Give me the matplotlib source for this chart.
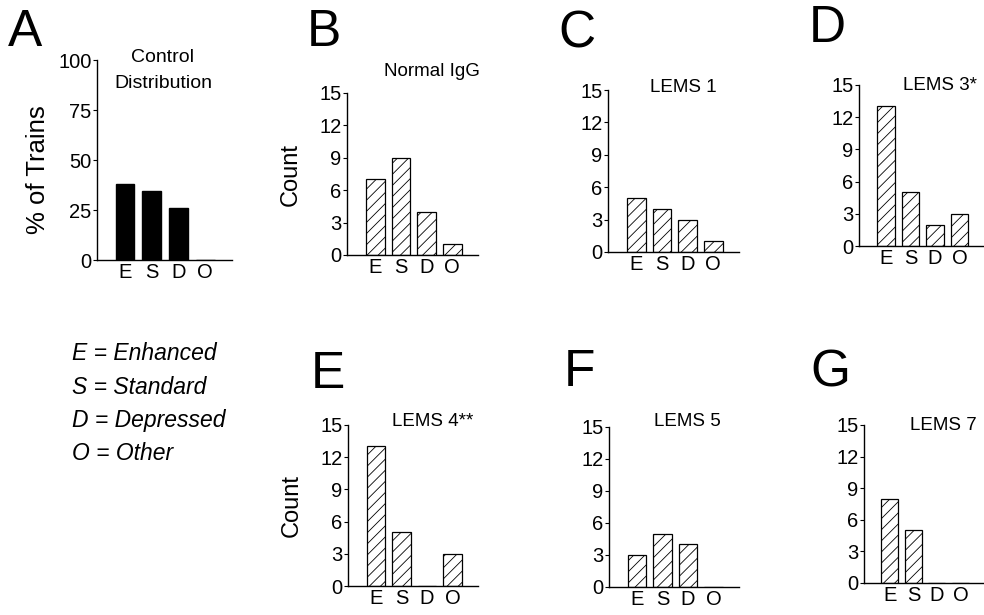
import matplotlib
matplotlib.use('Agg')
import matplotlib.pyplot as plt

plt.rcParams['font.family'] = ['Liberation Sans', 'DejaVu Sans']
plt.rcParams['hatch.linewidth'] = 0.6
plt.rcParams['hatch.color'] = '#444444'

W, H = 984, 615

categories = ['E', 'S', 'D', 'O']
control_pct = [38, 34.5, 26, 0]
normal_igg = [7, 9, 4, 1]
lems1 = [5, 4, 3, 1]
lems3 = [13, 5, 2, 3]
lems4 = [13, 5, 0, 3]
lems5 = [3, 5, 4, 0]
lems7 = [8, 5, 0, 0]

legend_lines = ['E = Enhanced', 'S = Standard', 'D = Depressed', 'O = Other']

fig = plt.figure(figsize=(W / 100, H / 100), dpi=100)


def px_axes(l, t, r, b):
    return fig.add_axes([l / W, 1 - b / H, (r - l) / W, (b - t) / H])


def ftext(x, y, s, **kw):
    fig.text(x / W, 1 - y / H, s, **kw)


def style_axes(ax, ymax, yticks, xlim):
    for s in ['top', 'right']:
        ax.spines[s].set_visible(False)
    for s in ['left', 'bottom']:
        ax.spines[s].set_linewidth(1.0)
    ax.set_ylim(0, ymax)
    ax.set_xlim(*xlim)
    ax.set_yticks(yticks)
    ax.set_xticks(range(len(categories)))
    ax.set_xticklabels(categories)
    ax.tick_params(axis='y', length=3, width=0.8, pad=1, labelsize=14.5)
    ax.tick_params(axis='x', length=0, pad=2, labelsize=14.5)


def count_panel(box, values, title, title_xy, letter, letter_xy, ylabel=False):
    ax = px_axes(*box)
    ax.bar(range(len(categories)), values, width=0.72, color='white',
           edgecolor='black', linewidth=0.9, hatch='///')
    style_axes(ax, 15, [0, 3, 6, 9, 12, 15], (-1.1, 4.0))
    ftext(*title_xy, title, fontsize=13.5, ha='center', va='center')
    ftext(*letter_xy, letter, fontsize=37, ha='center', va='center')
    if ylabel:
        ftext(box[0] - 56, (box[1] + box[3]) / 2, 'Count', fontsize=17,
              rotation=90, ha='center', va='center')
    return ax


# panel A
axA = px_axes(97, 60, 232, 260)
axA.bar(range(len(categories)), control_pct, width=0.7, color='black',
        edgecolor='black')
style_axes(axA, 100, [0, 25, 50, 75, 100], (-1.05, 4.0))
ftext(163, 57, 'Control', fontsize=14, ha='center', va='center')
ftext(163, 84, 'Distribution', fontsize=14, ha='center', va='center')
ftext(25, 33, 'A', fontsize=37, ha='center', va='center')
ftext(38, 170, '% of Trains', fontsize=18.5, rotation=90, ha='center', va='center')

count_panel((347, 93, 478, 255), normal_igg, 'Normal IgG', (432, 72), 'B', (324, 33), ylabel=True)
count_panel((608, 90, 739, 252), lems1, 'LEMS 1', (683, 88), 'C', (577, 34))
count_panel((859, 85, 984, 246), lems3, 'LEMS 3*', (940, 85), 'D', (827, 29))
count_panel((348, 425, 478, 586), lems4, 'LEMS 4**', (433, 421), 'E', (328, 374), ylabel=True)
count_panel((609, 427, 739, 587), lems5, 'LEMS 5', (687, 422), 'F', (579, 373))
count_panel((864, 425, 984, 583), lems7, 'LEMS 7', (943, 425), 'G', (830, 373))

for i, line in enumerate(legend_lines):
    ftext(72, 354 + i * 33, line, fontsize=16.5, style='italic', ha='left', va='center')

fig.savefig('out.png', dpi=100)
